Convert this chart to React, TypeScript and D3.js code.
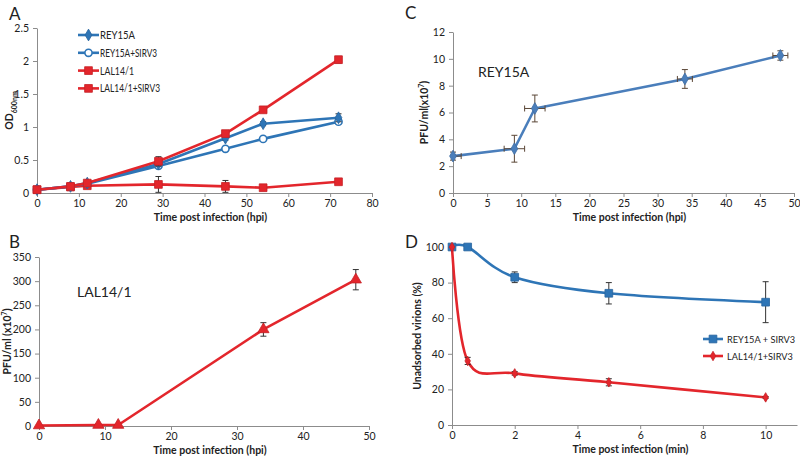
import React, { useRef, useEffect } from 'react';
import * as d3 from 'd3';

// Panel A: growth curves (OD600nm)
const hoursA = [0, 8, 12, 29, 45, 54, 72];
const rey15a = [0.05, 0.1, 0.15, 0.44, 0.83, 1.05, 1.14];
const rey15aErr = [0.01, 0.02, 0.02, 0.03, 0.03, 0.03, 0.06];
const rey15aSirv3 = [0.05, 0.1, 0.14, 0.41, 0.67, 0.82, 1.08];
const rey15aSirv3Err = [0.01, 0.02, 0.02, 0.03, 0.02, 0.02, 0.03];
const lal141 = [0.05, 0.1, 0.15, 0.48, 0.9, 1.26, 2.02];
const lal141Err = [0.01, 0.02, 0.02, 0.07, 0.04, 0.04, 0.05];
const lal141Sirv3 = [0.05, 0.09, 0.11, 0.13, 0.1, 0.08, 0.17];
const lal141Sirv3Err = [0.01, 0.02, 0.03, 0.12, 0.09, 0.03, 0.02];
const legendA = ['REY15A', 'REY15A+SIRV3', 'LAL14/1', 'LAL14/1+SIRV3'];

// Panel B: LAL14/1 virus titre
const hoursB = [0, 9, 12, 34, 48];
const pfuLal = [1, 2, 2, 200, 303];
const pfuLalErr = [0, 0, 0, 14, 21];

// Panel C: REY15A virus titre
const hoursC = [0, 9, 12, 34, 48];
const pfuRey = [2.75, 3.3, 6.3, 8.5, 10.25];
const pfuReyErr = [0.3, 1.0, 1.0, 0.7, 0.35];
const pfuReyXErr = [1.2, 1.5, 1.5, 1.1, 1.1];

// Panel D: adsorption
const minutesD = [0, 0.5, 2, 5, 10];
const adsRey = [100, 100, 83, 74, 69];
const adsReyErr = [0, 0, 3, 6, 11.5];
const adsLal = [100, 36, 29, 24, 15.5];
const adsLalErr = [0, 2, 1, 2, 0.5];
const legendD = ['REY15A + SIRV3', 'LAL14/1+SIRV3'];

const ticksA = [0, 10, 20, 30, 40, 50, 60, 70, 80];
const ticksAy = [0, 0.5, 1, 1.5, 2, 2.5];
const ticksBx = [0, 10, 20, 30, 40, 50];
const ticksBy = [0, 50, 100, 150, 200, 250, 300, 350];
const ticksCx = [0, 5, 10, 15, 20, 25, 30, 35, 40, 45, 50];
const ticksCy = [0, 2, 4, 6, 8, 10, 12];
const ticksDx = [0, 2, 4, 6, 8, 10];
const ticksDy = [0, 20, 40, 60, 80, 100];

const FONT = 'Lato, "Open Sans", sans-serif';
const BLUE = '#2e75b6';
const BLUE_C = '#4a7ebb';
const RED = '#e3262c';

type Marker = 'diamond' | 'circleOpen' | 'square' | 'triangle' | 'smallDiamond';
type Series = {
  xs: number[];
  ys: number[];
  err?: number[];
  xErr?: number[];
  color: string;
  marker: Marker;
  errColor?: string;
};

function drawMarker(g: any, m: Marker, color: string, x: number, y: number) {
  if (m === 'circleOpen') {
    g.append('circle').attr('cx', x).attr('cy', y).attr('r', 3.6)
      .attr('fill', '#fff').attr('stroke', color).attr('stroke-width', 1.6);
    return;
  }
  const sym = m === 'square' ? d3.symbolSquare : m === 'triangle' ? d3.symbolTriangle : d3.symbolDiamond;
  const size = m === 'square' ? 60 : m === 'triangle' ? 55 : m === 'diamond' ? 40 : 26;
  g.append('path').attr('d', d3.symbol(sym, size)())
    .attr('transform', `translate(${x},${y})`)
    .attr('fill', color).attr('stroke', d3.color(color)!.darker(0.4).toString()).attr('stroke-width', 0.8);
}

function drawPanel(svg: any, opt: {
  x0: number; x1: number; y0: number; y1: number;
  xDomain: [number, number]; yDomain: [number, number];
  xTicks: number[]; yTicks: number[];
  xTitle: string; yTitle: (t: any) => void; yTitleX: number;
  series: Series[]; curve?: boolean;
}) {
  const x = d3.scaleLinear().domain(opt.xDomain).range([opt.x0, opt.x1]);
  const y = d3.scaleLinear().domain(opt.yDomain).range([opt.y0, opt.y1]);
  const g = svg.append('g');

  const ax = g.append('g').attr('transform', `translate(0,${opt.y0})`)
    .call(d3.axisBottom(x).tickValues(opt.xTicks).tickSize(4).tickSizeOuter(0).tickPadding(3).tickFormat(d3.format('~g')));
  const ay = g.append('g').attr('transform', `translate(${opt.x0},0)`)
    .call(d3.axisLeft(y).tickValues(opt.yTicks).tickSize(4).tickSizeOuter(0).tickPadding(4).tickFormat(d3.format('~g')));
  [ax, ay].forEach((a) => {
    a.select('.domain').attr('stroke', '#8c8c8c').attr('stroke-width', 1);
    a.selectAll('.tick line').attr('stroke', '#8c8c8c');
    a.selectAll('text').attr('font-family', FONT).attr('font-size', 10.5).attr('fill', '#222');
  });

  g.append('text').attr('x', (opt.x0 + opt.x1) / 2 + 6).attr('y', opt.y0 + 28)
    .attr('text-anchor', 'middle').attr('font-family', FONT).attr('font-size', 10.5)
    .attr('font-weight', 'bold').attr('fill', '#222').text(opt.xTitle);

  const yt = g.append('text')
    .attr('transform', `translate(${opt.yTitleX},${(opt.y0 + opt.y1) / 2}) rotate(-90)`)
    .attr('text-anchor', 'middle').attr('font-family', FONT).attr('font-size', 10.5)
    .attr('font-weight', 'bold').attr('fill', '#222');
  opt.yTitle(yt);

  opt.series.forEach((s) => {
    const pts: [number, number][] = s.xs.map((v, i) => [x(v), y(s.ys[i])]);
    const line = d3.line().curve(opt.curve ? d3.curveCatmullRom.alpha(0) : d3.curveLinear);
    g.append('path').attr('d', line(pts)).attr('fill', 'none')
      .attr('stroke', s.color).attr('stroke-width', 2.6).attr('stroke-linejoin', 'round');
    const ec = s.errColor || '#333';
    s.xs.forEach((v, i) => {
      const e = s.err ? s.err[i] : 0;
      if (e > 0) {
        const cx = x(v);
        g.append('line').attr('x1', cx).attr('x2', cx).attr('y1', y(s.ys[i] - e)).attr('y2', y(s.ys[i] + e))
          .attr('stroke', ec).attr('stroke-width', 1);
        [s.ys[i] - e, s.ys[i] + e].forEach((yy) => {
          g.append('line').attr('x1', cx - 3).attr('x2', cx + 3).attr('y1', y(yy)).attr('y2', y(yy))
            .attr('stroke', ec).attr('stroke-width', 1);
        });
      }
      const xe = s.xErr ? s.xErr[i] : 0;
      if (xe > 0) {
        const cy = y(s.ys[i]);
        const xl = Math.max(opt.x0, x(v - xe));
        g.append('line').attr('x1', xl).attr('x2', x(v + xe)).attr('y1', cy).attr('y2', cy)
          .attr('stroke', ec).attr('stroke-width', 1);
        [v - xe, v + xe].forEach((xx) => {
          if (x(xx) < opt.x0) return;
          g.append('line').attr('x1', x(xx)).attr('x2', x(xx)).attr('y1', cy - 3).attr('y2', cy + 3)
            .attr('stroke', ec).attr('stroke-width', 1);
        });
      }
    });
    s.xs.forEach((v, i) => drawMarker(g, s.marker, s.color, x(v), y(s.ys[i])));
  });
}

function pfuTitle(space: boolean) {
  return (t: any) => {
    t.append('tspan').text(space ? 'PFU/ml (x10' : 'PFU/ml(x10');
    t.append('tspan').attr('font-size', 7).attr('baseline-shift', 'super').text('7');
    t.append('tspan').text(')');
  };
}

export default function App() {
  const ref = useRef<SVGSVGElement | null>(null);

  useEffect(() => {
    if (!ref.current) return;
    const svg = d3.select(ref.current);
    svg.selectAll('*').remove();

    // Panel A
    drawPanel(svg, {
      x0: 37, x1: 372, y0: 193, y1: 28,
      xDomain: [0, 80], yDomain: [0, 2.5],
      xTicks: ticksA, yTicks: ticksAy,
      xTitle: 'Time post infection (hpi)', yTitleX: 13,
      yTitle: (t) => {
        t.append('tspan').text('OD');
        t.append('tspan').attr('font-size', 7).attr('baseline-shift', 'sub').text('600nm');
      },
      series: [
        { xs: hoursA, ys: lal141Sirv3, err: lal141Sirv3Err, color: RED, marker: 'square' },
        { xs: hoursA, ys: rey15aSirv3, err: rey15aSirv3Err, color: BLUE, marker: 'circleOpen' },
        { xs: hoursA, ys: rey15a, err: rey15aErr, color: BLUE, marker: 'diamond' },
        { xs: hoursA, ys: lal141, err: lal141Err, color: RED, marker: 'square' },
      ],
    });

    // Legend A
    const legMarkers: Marker[] = ['diamond', 'circleOpen', 'square', 'square'];
    const legColors = [BLUE, BLUE, RED, RED];
    const legWidths = [35, 57, 34, 60];
    legendA.forEach((name, i) => {
      const ly = 35 + i * 17.8;
      svg.append('line').attr('x1', 78).attr('x2', 99).attr('y1', ly).attr('y2', ly)
        .attr('stroke', legColors[i]).attr('stroke-width', 2.6);
      drawMarker(svg, legMarkers[i], legColors[i], 88.5, ly);
      svg.append('text').attr('x', 100).attr('y', ly + 4).attr('font-family', FONT)
        .attr('font-size', 11).attr('fill', '#222')
        .attr('textLength', legWidths[i]).attr('lengthAdjust', 'spacingAndGlyphs').text(name);
    });

    // Panel B
    drawPanel(svg, {
      x0: 39, x1: 369, y0: 426, y1: 257,
      xDomain: [0, 50], yDomain: [0, 350],
      xTicks: ticksBx, yTicks: ticksBy,
      xTitle: 'Time post infection (hpi)', yTitleX: 11,
      yTitle: pfuTitle(true),
      series: [{ xs: hoursB, ys: pfuLal, err: pfuLalErr, color: RED, marker: 'triangle' }],
    });
    svg.append('text').attr('x', 77).attr('y', 297).attr('font-family', FONT)
      .attr('font-size', 14).attr('fill', '#222').text('LAL14/1');

    // Panel C
    drawPanel(svg, {
      x0: 453, x1: 794, y0: 193, y1: 32,
      xDomain: [0, 50], yDomain: [0, 12],
      xTicks: ticksCx, yTicks: ticksCy,
      xTitle: 'Time post infection (hpi)', yTitleX: 428,
      yTitle: pfuTitle(false),
      series: [{ xs: hoursC, ys: pfuRey, err: pfuReyErr, xErr: pfuReyXErr, color: BLUE_C, marker: 'diamond', errColor: '#5a4636' }],
    });
    svg.append('text').attr('x', 478).attr('y', 77).attr('font-family', FONT)
      .attr('font-size', 14).attr('fill', '#222').text('REY15A');

    // Panel D
    drawPanel(svg, {
      x0: 452, x1: 797, y0: 425, y1: 247,
      xDomain: [0, 11], yDomain: [0, 100],
      xTicks: ticksDx, yTicks: ticksDy,
      xTitle: 'Time post infection (min)', yTitleX: 421,
      yTitle: (t) => t.text('Unadsorbed virions (%)'),
      curve: true,
      series: [
        { xs: minutesD, ys: adsRey, err: adsReyErr, color: BLUE, marker: 'square' },
        { xs: minutesD, ys: adsLal, err: adsLalErr, color: RED, marker: 'smallDiamond' },
      ],
    });
    const legDMarkers: Marker[] = ['square', 'smallDiamond'];
    const legDColors = [BLUE, RED];
    legendD.forEach((name, i) => {
      const ly = 339 + i * 17;
      svg.append('line').attr('x1', 703).attr('x2', 723).attr('y1', ly).attr('y2', ly)
        .attr('stroke', legDColors[i]).attr('stroke-width', 2.6);
      drawMarker(svg, legDMarkers[i], legDColors[i], 713, ly);
      svg.append('text').attr('x', 727).attr('y', ly + 3.5).attr('font-family', FONT)
        .attr('font-size', 9.2).attr('fill', '#222').text(name);
    });

    // Panel letters
    [['A', 9, 20], ['B', 9, 248], ['C', 405, 19], ['D', 405, 248]].forEach(([l, lx, ly]) => {
      svg.append('text').attr('x', lx as number).attr('y', ly as number).attr('font-family', FONT)
        .attr('font-size', 17).attr('fill', '#222').text(l as string);
    });
  }, []);

  return (
    <svg ref={ref} width={800} height={458}
      style={{ position: 'absolute', left: 0, top: 0, background: '#fff' }} />
  );
}
